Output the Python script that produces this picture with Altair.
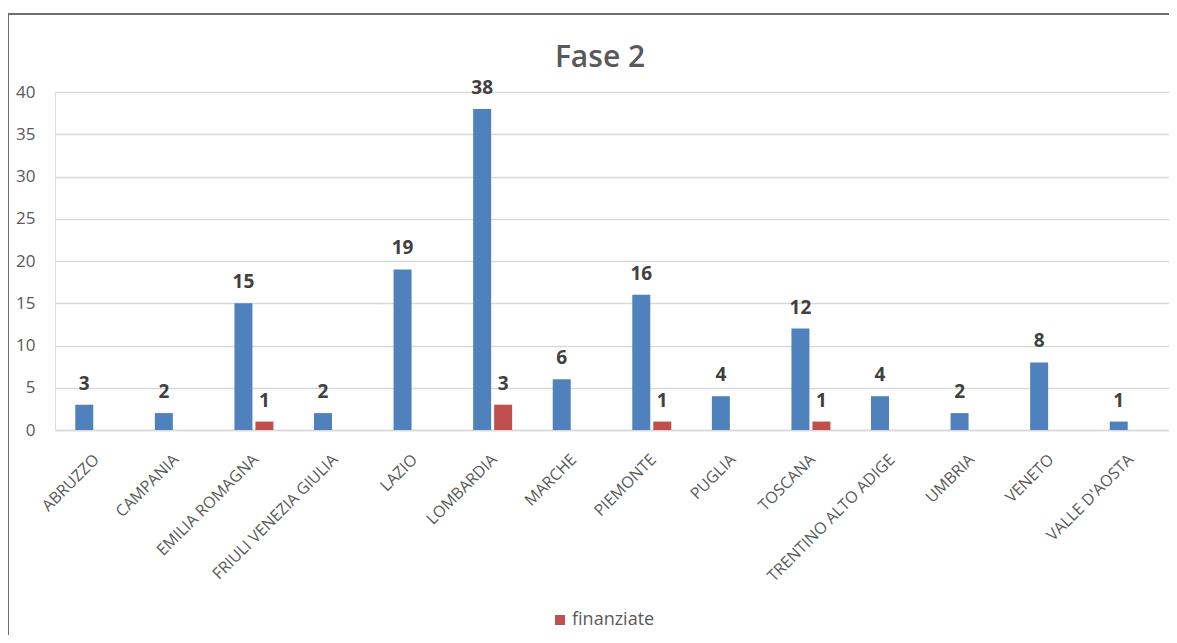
import altair as alt
import pandas as pd

regioni = ["ABRUZZO", "CAMPANIA", "EMILIA ROMAGNA", "FRIULI VENEZIA GIULIA", "LAZIO",
           "LOMBARDIA", "MARCHE", "PIEMONTE", "PUGLIA", "TOSCANA",
           "TRENTINO ALTO ADIGE", "UMBRIA", "VENETO", "VALLE D'AOSTA"]
presentate = [3, 2, 15, 2, 19, 38, 6, 16, 4, 12, 4, 2, 8, 1]
finanziate = [0, 0, 1, 0, 0, 3, 0, 1, 0, 1, 0, 0, 0, 0]
serie = ["presentate", "finanziate"]
colori = ["#4F81BD", "#C0504D"]

rows = []
for r, p, f in zip(regioni, presentate, finanziate):
    rows.append({"regione": r, "serie": serie[0], "valore": p})
    rows.append({"regione": r, "serie": serie[1], "valore": f})
df = pd.DataFrame(rows)

W, H = 1114, 338
FONT = "Open Sans"

x_enc = alt.X("regione:N", sort=regioni, title=None,
              scale=alt.Scale(paddingInner=0.51, paddingOuter=0.255),
              axis=alt.Axis(labelAngle=-45, labelFontSize=16, labelColor="#595959",
                            labelFont=FONT, labelPadding=21, labelOffset=-4,
                            ticks=False, domainColor="#d9d9d9", domainWidth=1.5,
                            grid=False))
xo_enc = alt.XOffset("serie:N", sort=serie,
                     scale=alt.Scale(paddingInner=0.143, paddingOuter=0))
color_enc = alt.Color("serie:N", sort=serie,
                      scale=alt.Scale(domain=serie, range=colori),
                      legend=alt.Legend(values=["finanziate"], title=None, orient="none",
                                        legendX=496, legendY=519, padding=0,
                                        symbolType="square", symbolSize=100,
                                        symbolStrokeWidth=0, labelFontSize=18,
                                        labelFont=FONT, labelColor="#595959",
                                        labelOffset=3))

base = alt.Chart(df)

bars = base.mark_bar().encode(
    x=x_enc,
    xOffset=xo_enc,
    y=alt.Y("valore:Q", title=None,
            scale=alt.Scale(domain=[0, 40]),
            axis=alt.Axis(values=[0, 5, 10, 15, 20, 25, 30, 35, 40], labelFontSize=17,
                          labelColor="#595959", labelFont=FONT, labelPadding=20,
                          ticks=False, domain=False, gridColor="#d9d9d9",
                          gridWidth=1.5)),
    color=color_enc,
)

labels = base.transform_filter("datum.valore > 0").mark_text(
    baseline="alphabetic", dy=-15, fontSize=19, fontWeight="bold",
    font=FONT, color="#404040"
).encode(
    x=alt.X("regione:N", sort=regioni),
    xOffset=alt.XOffset("serie:N", sort=serie),
    y="valore:Q",
    text="valore:Q",
)

frame_data = alt.Data(values=[{"k": 1}])
left_line = alt.Chart(frame_data).mark_rule(color="#6e6e6e", strokeWidth=2).encode(
    x=alt.value(-47), y=alt.value(-78), y2=alt.value(H + 300))
top_line = alt.Chart(frame_data).mark_rule(color="#6e6e6e", strokeWidth=2).encode(
    x=alt.value(-47), x2=alt.value(W + 20), y=alt.value(-78))

chart = alt.layer(bars, labels, left_line, top_line).properties(
    width=W, height=H,
    title=alt.Title("Fase 2", fontSize=30, font=FONT, fontWeight=600, color="#595959",
                    anchor="middle", frame="group", baseline="alphabetic",
                    offset=-84, dx=-12),
    autosize=alt.AutoSizeParams(type="none"),
    padding={"left": 47, "top": 84, "right": 0, "bottom": 205},
).configure_view(stroke=None).configure(background="white")

chart.save("out.html", embed_options={"renderer": "svg", "actions": False})
